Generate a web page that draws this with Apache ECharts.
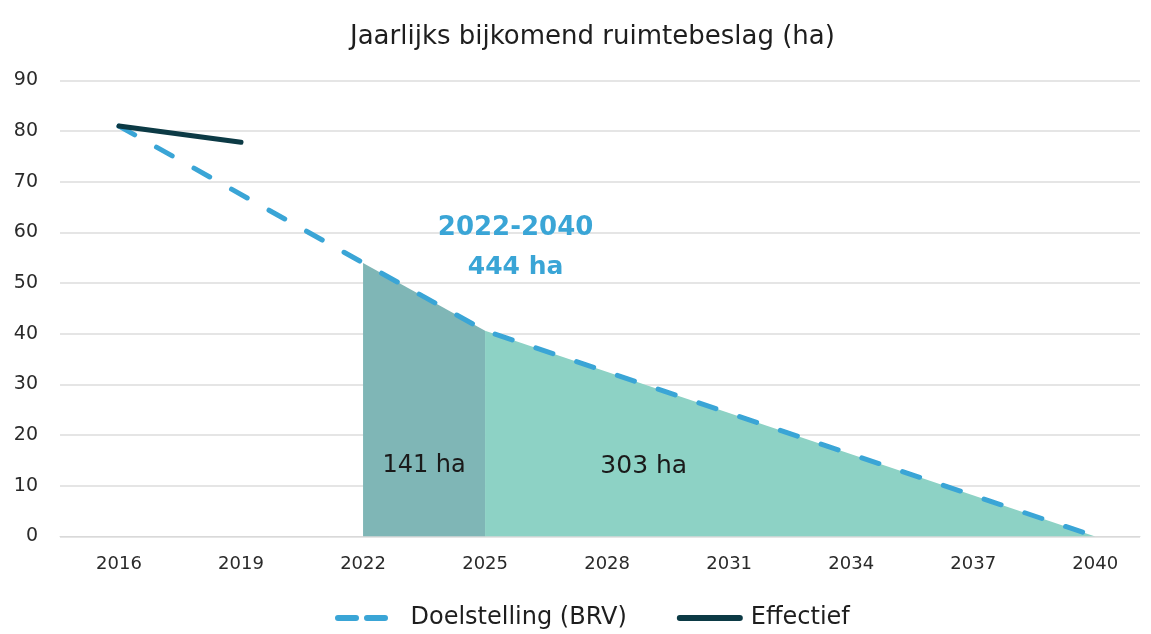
<!DOCTYPE html>
<html><head><meta charset="utf-8">
<script src="https://cdn.jsdelivr.net/npm/echarts@6/dist/echarts.min.js"></script>
<style>html,body{margin:0;padding:0;background:#fff}#c{width:1151px;height:634px}</style>
</head><body><div id="c"></div>
<script>
const xTicks = [2016, 2019, 2022, 2025, 2028, 2031, 2034, 2037, 2040];
const brvYears = [2016, 2022, 2025, 2040];
const brvValues = [81, 54, 40.6, 0];
const effYears = [2016, 2019];
const effValues = [81, 77.8];
const periodA = [2022, 2025];
const periodB = [2025, 2040];
const labelTotal = ['2022-2040', '444 ha'];
const labelA = '141 ha';
const labelB = '303 ha';

const brv = brvYears.map((y, i) => [y, brvValues[i]]);
const eff = effYears.map((y, i) => [y, effValues[i]]);
const areaA = brv.filter(p => p[0] >= periodA[0] && p[0] <= periodA[1]);
const areaB = brv.filter(p => p[0] >= periodB[0] && p[0] <= periodB[1]);

const font = '"DejaVu Sans", Verdana, sans-serif';
const dashIcon = 'path://M3,0H21A3,3 0 0 1 21,6H3A3,3 0 0 1 3,0Z M32,0H50A3,3 0 0 1 50,6H32A3,3 0 0 1 32,0Z';
const solidIcon = 'path://M3,0H63A3,3 0 0 1 63,6H3A3,3 0 0 1 3,0Z';
const chart = echarts.init(document.getElementById('c'));
chart.setOption({
  animation: false,
  title: { text: 'Jaarlijks bijkomend ruimtebeslag (ha)', left: 345, top: 19,
    textStyle: { fontFamily: font, fontSize: 26, fontWeight: 'normal', color: '#1e1e1e' } },
  legend: { bottom: -1, left: 330, itemHeight: 6, itemGap: 50,
    data: [
      { name: 'Doelstelling (BRV)', icon: dashIcon, itemWidth: 66, textStyle: { padding: [0, 0, 0, 9] } },
      { name: 'Effectief', icon: solidIcon, itemWidth: 73, textStyle: { padding: [0, 0, 0, 1] } }
    ],
    itemWidth: 70,
    textStyle: { fontFamily: font, fontSize: 24, color: '#1e1e1e' } },
  grid: { left: 60, right: 11, top: 80.5, bottom: 97.5 },
  xAxis: { type: 'value', min: 2014.55, max: 2041.1,
    axisLine: { show: true, lineStyle: { color: '#d9d9d9' } },
    axisTick: { show: false }, splitLine: { show: false },
    axisLabel: { customValues: xTicks, formatter: v => String(v), margin: 19,
      fontFamily: font, fontSize: 18, color: '#2a2a2a' } },
  yAxis: { type: 'value', min: 0, max: 90, interval: 10,
    axisLine: { show: false }, axisTick: { show: false },
    splitLine: { lineStyle: { color: '#dcdcdc', width: 1.5 } },
    axisLabel: { margin: 22, fontFamily: font, fontSize: 19, color: '#2a2a2a' } },
  series: [
    { name: 'areaA', type: 'line', data: areaA, symbol: 'none', z: 1,
      lineStyle: { width: 0 }, itemStyle: { color: '#7fb6b6' },
      areaStyle: { color: '#7fb6b6', opacity: 1 },
      markPoint: { symbolSize: 0, data: [
        { coord: [(periodA[0] + periodA[1]) / 2, 13.9], label: { show: true, formatter: labelA, fontFamily: font, fontSize: 24, color: '#1a1a1a' } }
      ] } },
    { name: 'areaB', type: 'line', data: areaB, symbol: 'none', z: 1,
      lineStyle: { width: 0 }, itemStyle: { color: '#8dd2c5' },
      areaStyle: { color: '#8dd2c5', opacity: 1 },
      markPoint: { symbolSize: 0, data: [
        { coord: [2028.9, 13.9], label: { show: true, formatter: labelB, fontFamily: font, fontSize: 25, color: '#1a1a1a' } }
      ] } },
    { name: 'Doelstelling (BRV)', type: 'line', data: brv, symbol: 'none', z: 3,
      itemStyle: { color: '#3aa5d6' },
      lineStyle: { color: '#3aa5d6', width: 5, type: [18, 25], cap: 'round' },
      markPoint: { symbolSize: 0, data: [
        { coord: [2025.75, 60.9], label: { show: true, formatter: labelTotal[0], fontFamily: font, fontSize: 26, fontWeight: 'bold', color: '#3aa5d6' } },
        { coord: [2025.75, 53.0], label: { show: true, formatter: labelTotal[1], fontFamily: font, fontSize: 25, fontWeight: 'bold', color: '#3aa5d6' } }
      ] } },
    { name: 'Effectief', type: 'line', data: eff, symbol: 'none', z: 4,
      itemStyle: { color: '#0c3a45' },
      lineStyle: { color: '#0c3a45', width: 5, cap: 'round' } }
  ]
});
</script></body></html>
